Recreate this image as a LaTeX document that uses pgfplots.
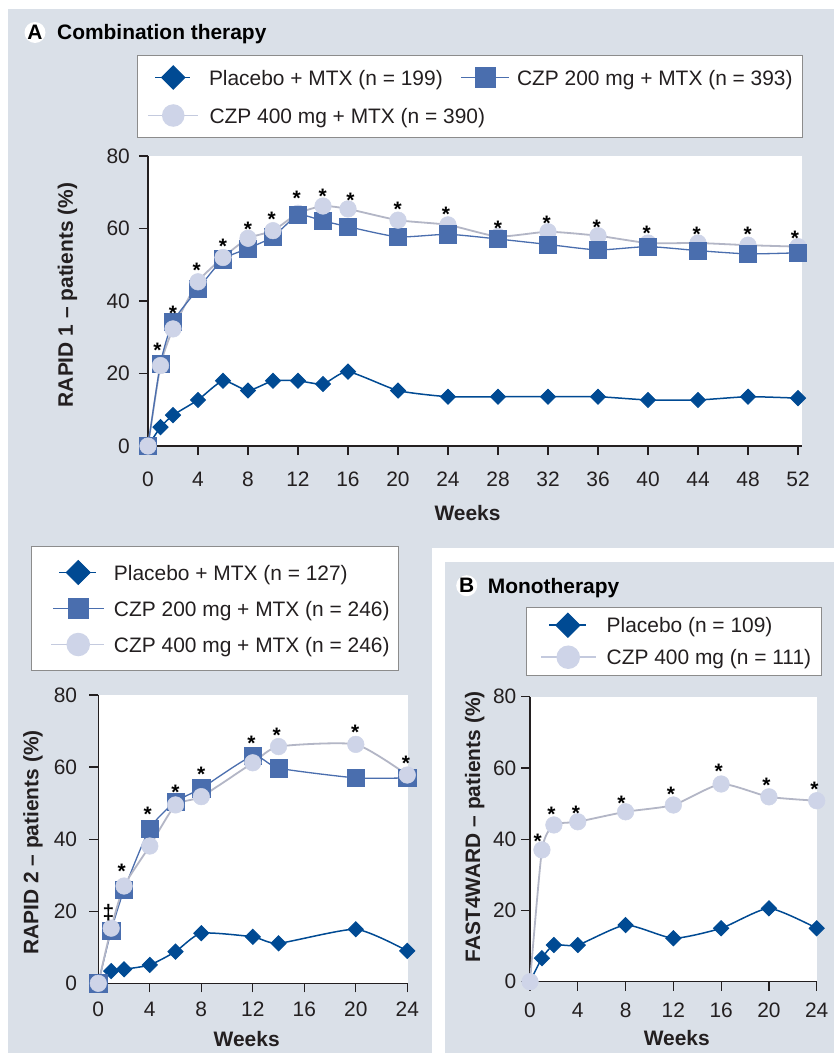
\documentclass[border=0pt]{standalone}
\usepackage{fontspec}
\setmainfont{Liberation Sans}
\usepackage{pgfplots}
\pgfplotsset{compat=1.18}
\definecolor{bg}{HTML}{DAE0E8}
\definecolor{plac}{HTML}{004A93}
\definecolor{czpa}{HTML}{4A6EAE}
\definecolor{czpb}{HTML}{CED4E8}
\definecolor{czpbline}{HTML}{B3B6C6}
\definecolor{czpbleg}{HTML}{C4CADE}
\definecolor{txt}{HTML}{231F20}
\definecolor{legframe}{HTML}{8C8C8C}
\newcommand{\fs}{\fontsize{21}{25}\selectfont}
\pgfplotsset{
  base/.style={
    scale only axis, clip=false,
    axis lines=left, axis line style={-, line width=1.3bp, draw=txt},
    every tick/.style={line width=1.2bp, draw=txt},
    tick align=outside, major tick length=9bp,
    axis background/.style={fill=white},
    ymin=0, ymax=80, ytick={0,20,40,60,80},
    tick label style={font=\fs, text=txt, inner sep=0pt},
    /pgf/number format/assume math mode=true,
    every axis y label/.style={rotate=90, anchor=base, font=\bfseries\fs, text=txt},
    every axis x label/.style={anchor=base, font=\bfseries\fs, text=txt},
    legend cell align=left,
    legend style={draw=legframe, line width=1bp, fill=white, anchor=north west,
       nodes={inner sep=0pt, font=\fs, text=txt}},
  },
  placS/.style={color=plac, line width=1.5bp, smooth, tension=0.35, mark=square*, mark size=5.3bp,
     mark options={rotate=45, fill=plac, draw=plac, line width=1bp, solid}},
  sqS/.style={color=czpa, line width=1.3bp, smooth, tension=0.35, mark=square*, mark size=8.6bp,
     mark options={fill=czpa, draw=czpa, line width=0.5bp, solid}},
  circL/.style={color=czpbline, line width=1.8bp, smooth, tension=0.35},
  circM/.style={only marks, mark=*, mark size=8.3bp, mark options={fill=czpb, draw=czpb, line width=0.5bp}},
  starS/.style={draw=none, mark=none, nodes near coords={\textbf{*}},
     every node near coord/.style={anchor=center, inner sep=0pt, font=\fs, text=black, yshift=-4.6bp}},
}
\begin{document}
\begin{tikzpicture}
\useasboundingbox (0bp,0bp) rectangle (834bp,-1053bp);
\fill[bg] (0bp,0bp) rectangle (834bp,-1053bp);
\fill[white] (0bp,0bp) rectangle (834bp,-9bp);
\fill[white] (0bp,0bp) rectangle (8bp,-1053bp);
\fill[white] (432bp,-548bp) rectangle (834bp,-1053bp);
\fill[bg] (445bp,-562bp) rectangle (834bp,-1053bp);
\node[circle, fill=white, inner sep=0pt, minimum size=21bp, font=\bfseries\fs, text=black] at (35bp,-32.5bp) {A};
\node[anchor=base west, inner sep=0pt, font=\bfseries\fs, text=black] at (57bp,-39.5bp) {Combination therapy};
\node[circle, fill=white, inner sep=0pt, minimum size=21bp, font=\bfseries\fs, text=black] at (466.7bp,-585.7bp) {B};
\node[anchor=base west, inner sep=0pt, font=\bfseries\fs, text=black] at (487.7bp,-593.3bp) {Monotherapy};

% ---------------- RAPID 1 ----------------
\begin{axis}[base, at={(148bp,-446bp)}, anchor=south west, width=654bp, height=290bp,
  xmin=0, xmax=52.32, xtick={0,4,...,52},
  xticklabel shift=16.7bp, yticklabel shift=9bp,
  xlabel={Weeks}, ylabel={RAPID 1 – patients (\%)},
  xlabel style={at={(axis description cs:0.4885,-0.2569)}},
  ylabel style={at={(axis description cs:-0.1147,0.5207)}},
  legend columns=2,
  legend style={at={(axis description cs:-0.01682,1.3483)}, inner xsep=10bp, inner ysep=4.5bp, row sep=3bp,
    nodes={text height=25bp, text depth=10bp},
    /tikz/every odd column/.style={column sep=7bp},
    /tikz/every even column/.style={column sep=18bp}},
]
\addlegendimage{color=plac, line width=1.5bp, mark=square*, mark size=8.2bp, mark options={rotate=45, fill=plac, draw=plac, line width=1bp},
  legend image code/.code={\path (0bp,0bp) (53bp,0bp); \draw (7bp,0bp) -- (42bp,0bp); \draw plot coordinates {(25bp,0bp)};}}
\addlegendentry{Placebo + MTX (n = 199)}
\addlegendimage{color=czpa, line width=1.3bp, mark=square*, mark size=10bp, mark options={fill=czpa, draw=czpa, line width=0.5bp},
  legend image code/.code={\path (0bp,0bp) (48bp,0bp); \draw (0bp,0bp) -- (48bp,0bp); \draw plot coordinates {(24bp,0bp)};}}
\addlegendentry{CZP 200 mg + MTX (n = 393)}
\addlegendimage{color=czpbleg, line width=1.5bp, mark=*, mark size=10.5bp, mark options={fill=czpb, draw=czpb},
  legend image code/.code={\path (0bp,0bp) (53bp,0bp); \draw (0bp,0bp) -- (50bp,0bp); \draw plot coordinates {(25bp,0bp)};}}
\addlegendentry{\makebox[0pt][l]{CZP 400 mg + MTX (n = 390)}}

\addplot[placS, forget plot] coordinates {(0,0)(1,5.2)(2,8.5)(4,12.7)(6,18.0)(8,15.3)(10,18.0)(12,18.0)(14,17.1)(16,20.5)(20,15.3)(24,13.6)(28,13.6)(32,13.6)(36,13.6)(40,12.7)(44,12.7)(48,13.6)(52,13.2)};
\addplot[circL, forget plot] coordinates {(0,0)(1,22.2)(2,32.3)(4,45.3)(6,52.0)(8,57.3)(10,59.4)(12,64.2)(14,66.2)(16,65.4)(20,62.3)(24,61.0)(28,57.8)(32,59.1)(36,58.0)(40,56.0)(44,56.0)(48,55.4)(52,55.0)};
\addplot[circM, forget plot] coordinates {(12,64.2)(24,61.0)(28,57.8)(32,59.1)(36,58.0)(40,56.0)(44,56.0)(48,55.4)(52,55.0)};
\addplot[sqS, forget plot] coordinates {(0,0)(1,22.8)(2,34.3)(4,43.3)(6,51.5)(8,54.5)(10,57.7)(12,63.7)(14,62.1)(16,60.5)(20,57.7)(24,58.4)(28,57.1)(32,55.6)(36,54.1)(40,55.0)(44,53.9)(48,53.0)(52,53.3)};
\addplot[circM, forget plot] coordinates {(0,0)(1,22.2)(2,32.3)(4,45.3)(6,52.0)(8,57.3)(10,59.4)(14,66.2)(16,65.4)(20,62.3)};
\addplot[starS, forget plot] coordinates {(0.75,27.6)(2,38)(3.9,49.7)(6,56.4)(8,61)(9.9,63.7)(11.9,69.5)(13.97,70.2)(16.2,69)(19.97,66.5)(23.84,65.1)(28,61.4)(31.9,62.8)(35.9,61.6)(39.9,60)(43.9,59.8)(47.97,59.8)(51.76,58.7)};
\end{axis}

% ---------------- RAPID 2 ----------------
\begin{axis}[base, at={(98.3bp,-983.3bp)}, anchor=south west, width=310bp, height=288.3bp,
  xmin=0, xmax=24.08, xtick={0,4,...,24},
  xticklabel shift=9.4bp, yticklabel shift=12bp,
  xlabel={Weeks}, ylabel={RAPID 2 – patients (\%)},
  xlabel style={at={(axis description cs:0.4787,-0.2199)}},
  ylabel style={at={(axis description cs:-0.1935,0.4884)}},
  legend style={at={(axis description cs:-0.2171,1.5168)}, inner xsep=9bp, inner ysep=9bp, row sep=2bp, column sep=7bp,
    nodes={text height=24.5bp, text depth=9.5bp}},
]
\addlegendimage{color=plac, line width=1.5bp, mark=square*, mark size=8.5bp, mark options={rotate=45, fill=plac, draw=plac, line width=1bp},
  legend image code/.code={\path (0bp,0bp) (65bp,0bp); \draw (18bp,0bp) -- (55bp,0bp); \draw plot coordinates {(37bp,0bp)};}}
\addlegendentry{Placebo + MTX (n = 127)}
\addlegendimage{color=czpa, line width=1.3bp, mark=square*, mark size=10bp, mark options={fill=czpa, draw=czpa, line width=0.5bp},
  legend image code/.code={\path (0bp,0bp) (65bp,0bp); \draw (12bp,0bp) -- (63bp,0bp); \draw plot coordinates {(37bp,0bp)};}}
\addlegendentry{CZP 200 mg + MTX (n = 246)}
\addlegendimage{color=czpbleg, line width=1.5bp, mark=*, mark size=11bp, mark options={fill=czpb, draw=czpb},
  legend image code/.code={\path (0bp,0bp) (65bp,0bp); \draw (10bp,0bp) -- (63bp,0bp); \draw plot coordinates {(37bp,0bp)};}}
\addlegendentry{CZP 400 mg + MTX (n = 246)}

\addplot[placS, forget plot] coordinates {(0,0)(1,3.4)(2,3.9)(4,5.1)(6,8.8)(8,13.9)(12,12.9)(14,11.1)(20,15.0)(24,9.0)};
\addplot[sqS, forget plot] coordinates {(0,0)(1,14.6)(2,25.9)(4,43.0)(6,50.4)(8,54.1)(12,63.1)(14,59.7)(20,57.0)(24,57.0)};
\addplot[circL, forget plot] coordinates {(0,0)(1,15.3)(2,27.0)(4,38.1)(6,49.5)(8,51.8)(12,61.2)(14,65.7)(20,66.3)(24,57.8)};
\addplot[circM, forget plot] coordinates {(0,0)(1,15.3)(2,27.0)(4,38.1)(6,49.5)(8,51.8)(12,61.2)(14,65.7)(20,66.3)(24,57.8)};
\addplot[starS, forget plot] coordinates {(1.82,32.4)(3.84,48.3)(6,54.4)(8,59.4)(11.9,68.0)(13.86,70.0)(19.96,70.8)(23.9,62.2)};
\addplot[starS, nodes near coords={\textbf{‡}}, every node near coord/.append style={yshift=0bp}, forget plot] coordinates {(0.78,20.8)};
\end{axis}

% ---------------- FAST4WARD ----------------
\begin{axis}[base, at={(530bp,-981.7bp)}, anchor=south west, width=287.3bp, height=285bp,
  xmin=0, xmax=24.05, xtick={0,4,...,24},
  xticklabel shift=12.3bp, yticklabel shift=4.5bp,
  xlabel={Weeks}, ylabel={FAST4WARD – patients (\%)},
  xlabel style={at={(axis description cs:0.5106,-0.2221)}},
  ylabel style={at={(axis description cs:-0.174,0.5439)}},
  legend style={at={(axis description cs:-0.015,1.3158)}, inner xsep=10bp, inner ysep=3bp, row sep=2bp, column sep=7bp,
    nodes={text height=22.5bp, text depth=7.5bp}},
]
\addlegendimage{color=plac, line width=1.5bp, mark=square*, mark size=8.5bp, mark options={rotate=45, fill=plac, draw=plac, line width=1bp},
  legend image code/.code={\path (0bp,0bp) (62bp,0bp); \draw (12.3bp,0bp) -- (49.3bp,0bp); \draw plot coordinates {(31bp,0bp)};}}
\addlegendentry{Placebo (n = 109)}
\addlegendimage{color=czpbleg, line width=1.5bp, mark=*, mark size=11bp, mark options={fill=czpb, draw=czpb},
  legend image code/.code={\path (0bp,0bp) (62bp,0bp); \draw (4.3bp,0bp) -- (59.3bp,0bp); \draw plot coordinates {(31.3bp,0bp)};}}
\addlegendentry{CZP 400 mg (n = 111)}

\addplot[placS, forget plot] coordinates {(0,0)(1,6.6)(2,10.3)(4,10.3)(8,15.9)(12,12.2)(16,15.0)(20,20.6)(24,15.0)};
\addplot[circL, forget plot] coordinates {(0,0)(1,37.0)(2,44.0)(4,44.9)(8,47.7)(12,49.6)(16,55.5)(20,51.9)(24,50.8)};
\addplot[circM, forget plot] coordinates {(0,0)(1,37.0)(2,44.0)(4,44.9)(8,47.7)(12,49.6)(16,55.5)(20,51.9)(24,50.8)};
\addplot[starS, forget plot] coordinates {(0.65,40.7)(1.8,48.2)(3.85,48.7)(7.65,51.5)(11.8,53.8)(15.8,60.4)(19.8,56.3)(23.8,55.2)};
\end{axis}
\end{tikzpicture}
\end{document}
